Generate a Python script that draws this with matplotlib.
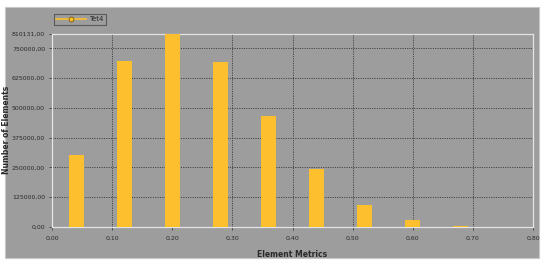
import matplotlib
matplotlib.use("Agg")
import matplotlib.pyplot as plt
from matplotlib.patches import Rectangle
from matplotlib.ticker import FuncFormatter

# data
metric = [0.04, 0.12, 0.20, 0.28, 0.36, 0.44, 0.52, 0.60, 0.68]
n_elements = [301000, 696000, 810131, 693000, 467000, 242000, 91000, 28000, 4000]
y_ticks = [0, 125000, 250000, 375000, 500000, 625000, 750000, 810131]
x_ticks = [0.0, 0.1, 0.2, 0.3, 0.4, 0.5, 0.6, 0.7, 0.8]

W, H = 550, 266
bar_col = "#fdbf2d"
panel = "#9d9d9d"
txt = "#2a2a2a"

fig = plt.figure(figsize=(W / 100, H / 100), dpi=100, facecolor="white")

# grey panel behind everything
fig.patches.append(Rectangle((5 / W, 1 - 258 / H), 534 / W, 251 / H,
                             transform=fig.transFigure, facecolor=panel,
                             edgecolor="#c8c8c8", lw=0.8, zorder=-10))

ax = fig.add_axes([52 / W, 1 - 227 / H, 481 / W, 193 / H])
ax.set_facecolor(panel)

ax.bar(metric, n_elements, width=0.025, color=bar_col, zorder=3)

ax.set_xlim(0, 0.8)
ax.set_ylim(0, 810131)
ax.set_xticks(x_ticks)
ax.set_yticks(y_ticks)
fmt = FuncFormatter(lambda v, p: ("%.2f" % v).replace(".", ","))
ax.xaxis.set_major_formatter(fmt)
ax.yaxis.set_major_formatter(fmt)
ax.tick_params(labelsize=4.5, colors="#3a3a3a", length=2, width=0.6, pad=3)
ax.tick_params(axis="x", pad=4)
for lab in ax.get_xticklabels() + ax.get_yticklabels():
    lab.set_color(txt)

ax.grid(True, color="#454545", linestyle=(0, (1.2, 1.2)), lw=0.7, zorder=1)
for s in ax.spines.values():
    s.set_color("#e4e4e4")
    s.set_linewidth(0.9)

ax.set_xlabel("Element Metrics", fontsize=5.5, fontweight="bold", color=txt, labelpad=7)
fig.text(7 / W, 1 - 130 / H, "Number of Elements", rotation=90, fontsize=5.5,
         fontweight="bold", color=txt, ha="center", va="center")

# legend
leg_h, = ax.plot([], [], color=bar_col, lw=1.2, marker="o", ms=3.5,
                 mfc=bar_col, mec="#7a5a00", mew=0.6, label="Tet4")
leg = fig.legend(handles=[leg_h], loc="upper left", bbox_to_anchor=(54 / W, 1 - 14 / H),
                 fontsize=5, frameon=True, fancybox=False, borderpad=0.35,
                 handlelength=4.2, handletextpad=0.5, borderaxespad=0)
leg.get_frame().set_facecolor(panel)
leg.get_frame().set_edgecolor("#4a4a4a")
leg.get_frame().set_linewidth(0.8)
for t in leg.get_texts():
    t.set_color(txt)

fig.savefig("out.png", dpi=100, facecolor="white")
